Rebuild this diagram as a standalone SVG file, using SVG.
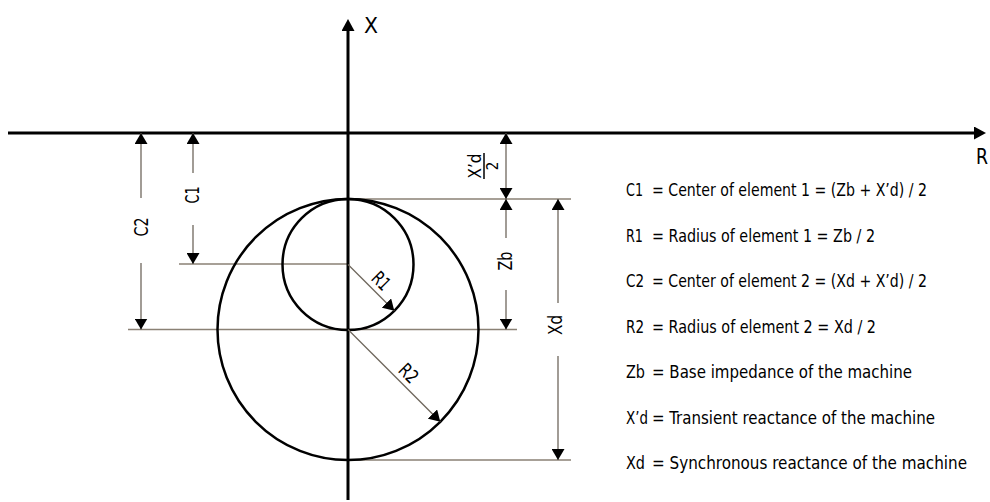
<svg xmlns="http://www.w3.org/2000/svg" width="990" height="502" viewBox="0 0 990 502">
<style>
.ax{stroke:#000;stroke-width:3;fill:none}
.circ{stroke:#000;stroke-width:2.5;fill:none}
.thin{stroke:#8a8175;stroke-width:1.3;fill:none}
.dim{stroke:#6f675d;stroke-width:1.3;fill:none}
text{font-family:"DejaVu Sans","Liberation Sans",sans-serif;font-stretch:condensed;fill:#000}
.lg{font-size:18.5px}
.lb{font-size:19px}
.axl{font-size:22px}
</style>
<defs>
<marker id="arr" viewBox="0 0 11 13" refX="11" refY="6.5" markerWidth="11" markerHeight="13" markerUnits="userSpaceOnUse" orient="auto-start-reverse">
<path d="M0,0 L11,6.5 L0,13 z" fill="#000"/>
</marker>
<marker id="arrAx" viewBox="0 0 12 13" refX="3" refY="6.5" markerWidth="12" markerHeight="13" markerUnits="userSpaceOnUse" orient="auto">
<path d="M0,0 L12,6.5 L0,13 z" fill="#000"/>
</marker>
</defs>
<rect width="990" height="502" fill="#fff"/>

<g id="guides">
<line class="thin" x1="348" y1="199" x2="571" y2="199"/>
<line class="thin" x1="179" y1="264" x2="348" y2="264"/>
<line class="thin" x1="128" y1="329.5" x2="517" y2="329.5"/>
<line class="thin" x1="348" y1="460" x2="571" y2="460"/>
</g>

<g id="circles">
<circle id="element2" class="circ" cx="348" cy="329.5" r="130.5"/>
<circle id="element1" class="circ" cx="348" cy="264.5" r="65.5"/>
</g>

<g id="axes">
<line id="axisR" class="ax" x1="8" y1="133" x2="977" y2="133" marker-end="url(#arrAx)"/>
<line id="axisX" class="ax" x1="348" y1="500" x2="348" y2="28" marker-end="url(#arrAx)"/>
<text class="axl" x="364" y="33" textLength="14" lengthAdjust="spacingAndGlyphs">X</text>
<text class="axl" x="976" y="164" textLength="12" lengthAdjust="spacingAndGlyphs">R</text>
</g>

<g id="connectors">
<line class="dim" x1="193" y1="173" x2="193" y2="133" marker-end="url(#arr)"/>
<line class="dim" x1="193" y1="225" x2="193" y2="264" marker-end="url(#arr)"/>
<line class="dim" x1="141" y1="198" x2="141" y2="133" marker-end="url(#arr)"/>
<line class="dim" x1="141" y1="263" x2="141" y2="329.5" marker-end="url(#arr)"/>
<line class="dim" x1="506" y1="133" x2="506" y2="199" marker-start="url(#arr)" marker-end="url(#arr)"/>
<line class="dim" x1="506" y1="238" x2="506" y2="199" marker-end="url(#arr)"/>
<line class="dim" x1="506" y1="290" x2="506" y2="329.5" marker-end="url(#arr)"/>
<line class="dim" x1="558" y1="303" x2="558" y2="199" marker-end="url(#arr)"/>
<line class="dim" x1="558" y1="356" x2="558" y2="460" marker-end="url(#arr)"/>
<line class="dim" x1="348" y1="264.5" x2="394.3" y2="310.8" marker-end="url(#arr)"/>
<line class="dim" x1="348" y1="329.5" x2="440.3" y2="421.8" marker-end="url(#arr)"/>
</g>

<g id="dim-labels">
<text id="lblC1" class="lb" text-anchor="middle" textLength="17" lengthAdjust="spacingAndGlyphs" transform="translate(198.5,195) rotate(-90)">C1</text>
<text id="lblC2" class="lb" text-anchor="middle" textLength="19" lengthAdjust="spacingAndGlyphs" transform="translate(147.5,227) rotate(-90)">C2</text>
<text id="lblZb" class="lb" text-anchor="middle" textLength="19" lengthAdjust="spacingAndGlyphs" transform="translate(511.5,261) rotate(-90)">Zb</text>
<text id="lblXd" class="lb" text-anchor="middle" textLength="20" lengthAdjust="spacingAndGlyphs" transform="translate(562,325) rotate(-90)">Xd</text>
<g id="lblXd2">
<text style="font-size:17px" text-anchor="middle" textLength="25" lengthAdjust="spacingAndGlyphs" transform="translate(481,166) rotate(-90)">X’d</text>
<line x1="484" y1="153" x2="484" y2="179" stroke="#000" stroke-width="1.5"/>
<text style="font-size:15px" text-anchor="middle" transform="translate(498,166) rotate(-90)">2</text>
</g>
<text id="lblR1" class="lb" text-anchor="middle" textLength="18" lengthAdjust="spacingAndGlyphs" transform="translate(376.5,285.5) rotate(45)">R1</text>
<text id="lblR2" class="lb" text-anchor="middle" textLength="19" lengthAdjust="spacingAndGlyphs" transform="translate(404,378) rotate(45)">R2</text>
</g>

<g id="legend" class="lg">
<text x="626" y="196" textLength="17" lengthAdjust="spacingAndGlyphs">C1</text>
<text x="652" y="196" textLength="275" lengthAdjust="spacingAndGlyphs">= Center of element 1 = (Zb + X’d) / 2</text>
<text x="626" y="241.5" textLength="17" lengthAdjust="spacingAndGlyphs">R1</text>
<text x="652" y="241.5" textLength="223" lengthAdjust="spacingAndGlyphs">= Radius of element 1 = Zb / 2</text>
<text x="626" y="287" textLength="18" lengthAdjust="spacingAndGlyphs">C2</text>
<text x="652" y="287" textLength="275" lengthAdjust="spacingAndGlyphs">= Center of element 2 = (Xd + X’d) / 2</text>
<text x="626" y="332.5" textLength="18" lengthAdjust="spacingAndGlyphs">R2</text>
<text x="652" y="332.5" textLength="224" lengthAdjust="spacingAndGlyphs">= Radius of element 2 = Xd / 2</text>
<text x="626" y="378" textLength="19" lengthAdjust="spacingAndGlyphs">Zb</text>
<text x="652" y="378" textLength="260" lengthAdjust="spacingAndGlyphs">= Base impedance of the machine</text>
<text x="626" y="423.5" textLength="22" lengthAdjust="spacingAndGlyphs">X’d</text>
<text x="652" y="423.5" textLength="283" lengthAdjust="spacingAndGlyphs">= Transient reactance of the machine</text>
<text x="626" y="469" textLength="19" lengthAdjust="spacingAndGlyphs">Xd</text>
<text x="652" y="469" style="font-size:17.5px" textLength="315" lengthAdjust="spacingAndGlyphs">= Synchronous reactance of the machine</text>
</g>
</svg>
